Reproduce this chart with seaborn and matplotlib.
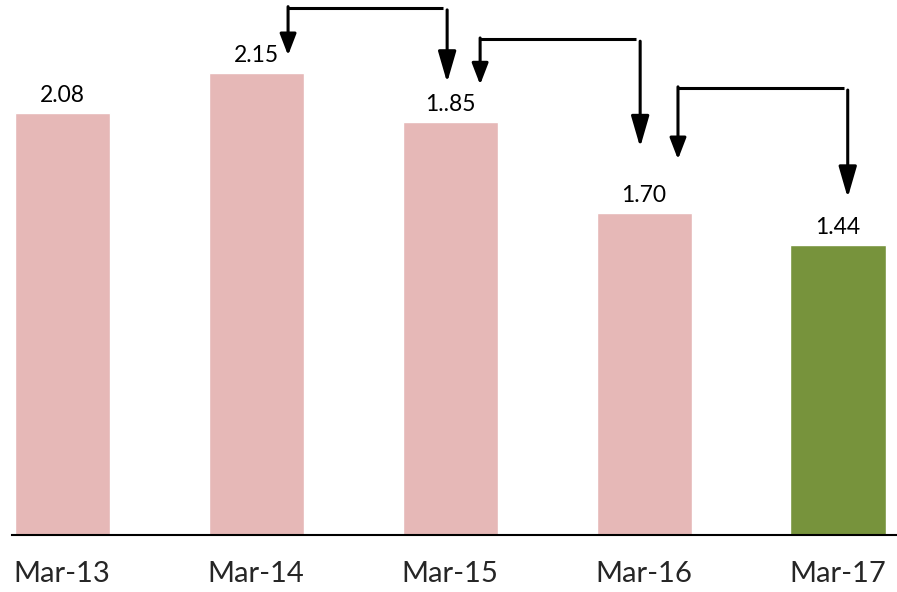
import pandas as pd
import seaborn as sns
import matplotlib.pyplot as plt

# data
months = ["Mar-13", "Mar-14", "Mar-15", "Mar-16", "Mar-17"]
value_labels = ["2.08", "2.15", "1..85", "1.70", "1.44"]
# bar heights as drawn in the picture (the original bars are not to scale)
heights = [2.09, 2.29, 2.045, 1.595, 1.435]
bar_colors = ["#E6B8B7", "#E6B8B7", "#E6B8B7", "#E6B8B7", "#77933C"]

# elbow arrows: (from bar, to bar, x shift at start, x shift at end, top level, tip at start, tip at end)
arrows = [
    (1, 2, 0.165, -0.015, 2.61, 2.375, 2.24),
    (2, 3, 0.155, -0.02, 2.455, 2.23, 1.92),
    (3, 4, 0.175, 0.05, 2.213, 1.86, 1.67),
]


def draw_chart():
    sns.set_style("white")
    plt.rcParams["font.family"] = ["Lato", "DejaVu Sans"]

    df = pd.DataFrame({"month": months, "value": heights})
    fig = plt.figure(figsize=(8.97, 5.92), dpi=100)
    ax = fig.add_axes([0.0134, 0.0963, 0.9866, 0.9037])

    sns.barplot(data=df, x="month", y="value", hue="month", palette=bar_colors,
                width=0.49, legend=False, saturation=1, ax=ax)

    for i, txt in enumerate(value_labels):
        ax.annotate(txt, (i, heights[i]), xytext=(0, 5), textcoords="offset points",
                    ha="center", va="bottom", fontsize=16.5, color="black")

    for a, b, da, db, top, tip_a, tip_b in arrows:
        xa, xb = a + da, b + db
        ax.plot([xa, xb - 0.02], [top, top], color="black", lw=2.2, solid_capstyle="butt")
        ax.annotate("", xy=(xa, tip_a), xytext=(xa, top + 0.006),
                    arrowprops=dict(arrowstyle="-|>,head_length=1.3,head_width=0.5",
                                    lw=2.2, color="black", shrinkA=0, shrinkB=0))
        ax.annotate("", xy=(xb, tip_b), xytext=(xb, top - 0.01),
                    arrowprops=dict(arrowstyle="-|>,head_length=1.9,head_width=0.55",
                                    lw=2.2, color="black", shrinkA=0, shrinkB=0))

    ax.set_xlim(-0.258, 4.304)
    ax.set_ylim(0, 2.649)
    ax.set_xlabel("")
    ax.set_ylabel("")
    ax.set_yticks([])
    ax.tick_params(axis="x", length=0, pad=19, labelsize=21)
    for side in ["top", "right", "left"]:
        ax.spines[side].set_visible(False)
    ax.spines["bottom"].set_color("black")
    ax.spines["bottom"].set_linewidth(1.5)

    fig.savefig("out.png", dpi=100)


if __name__ == "__main__":
    draw_chart()
